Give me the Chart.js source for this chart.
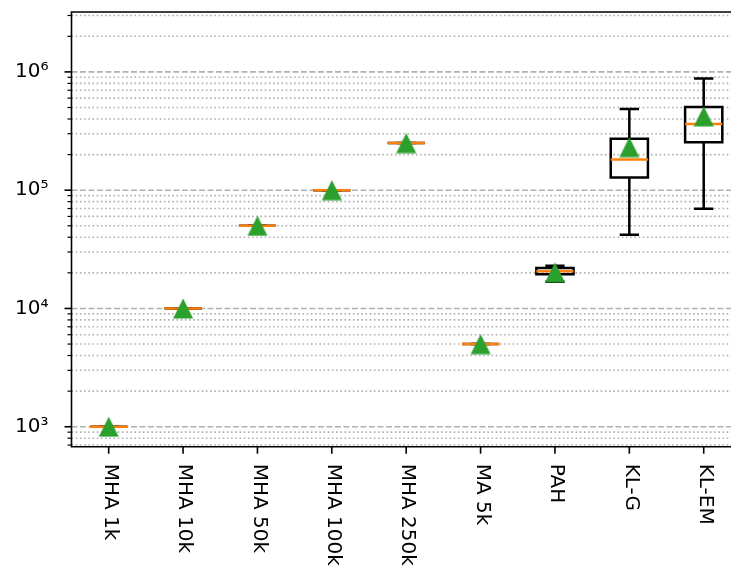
<!DOCTYPE html>
<html>
<head>
<meta charset="utf-8">
<script src="https://cdn.jsdelivr.net/npm/chart.js@4/dist/chart.umd.min.js"></script>
<style>
  html, body { margin: 0; padding: 0; background: #fff; overflow: hidden; }
  #wrap { position: relative; width: 731px; height: 573px; overflow: hidden; }
  #chart { position: absolute; left: 0; top: 0; display: block; width: 742px; height: 573px; }
</style>
</head>
<body>
<div id="wrap"><canvas id="chart" width="742" height="573"></canvas></div>
<script>
// data
const categories = ["MHA 1k", "MHA 10k", "MHA 50k", "MHA 100k", "MHA 250k", "MA 5k", "PAH", "KL-G", "KL-EM"];
const whiskerLow  = [1000, 10000, 50000, 100000, 250000, 5000, 16800, 42000, 69500];
const q1          = [1000, 10000, 50000, 100000, 250000, 5000, 19500, 128000, 254000];
const medians     = [1000, 10000, 50000, 100000, 250000, 5000, 20600, 182000, 362000];
const q3          = [1000, 10000, 50000, 100000, 250000, 5000, 22000, 272000, 505000];
const whiskerHigh = [1000, 10000, 50000, 100000, 250000, 5000, 23000, 486000, 878000];
const means       = [1000, 10000, 50000, 100000, 250000, 5000, 20200, 231000, 421000];
const decadeTicks = [1e3, 1e4, 1e5, 1e6];
const decadeLabels = ["10\u00b3", "10\u2074", "10\u2075", "10\u2076"];

const yMin = 678, yMax = 3.21e6;
const FONT = '20px "DejaVu Sans"';

// minor ticks 2..9 x 10^n, plus decades
const yTicks = [];
for (let e = 2; e <= 6; e++) {
  for (let m = 1; m <= 9; m++) {
    const v = m * Math.pow(10, e);
    if (v >= yMin && v <= yMax) yTicks.push({ value: v, major: m === 1 });
  }
}

// matplotlib-like "^" marker
const tri = document.createElement("canvas");
tri.width = 22; tri.height = 21;
(function () {
  const c = tri.getContext("2d");
  c.fillStyle = "#2ca02c";
  c.beginPath();
  c.moveTo(11, 0.5);
  c.lineTo(1, 20.5);
  c.lineTo(21, 20.5);
  c.closePath();
  c.fill();
})();

const boxPlugin = {
  id: "boxes",
  beforeDatasetsDraw(chart) {
    const { ctx, chartArea: a, scales: { x, y } } = chart;
    ctx.save();
    // grid lines
    ctx.lineWidth = 1.6;
    ctx.strokeStyle = "#b0b0b0";
    yTicks.forEach(t => {
      const py = y.getPixelForValue(t.value);
      ctx.setLineDash(t.major ? [5.9, 2.6] : [1.6, 2.6]);
      ctx.beginPath();
      ctx.moveTo(a.left, py);
      ctx.lineTo(a.right, py);
      ctx.stroke();
    });
    ctx.setLineDash([]);

    // box plots
    const step = x.getPixelForValue(1) - x.getPixelForValue(0);
    const half = step * 0.25, cap = step * 0.13;
    ctx.lineWidth = 2.5;
    categories.forEach((c, i) => {
      const px = x.getPixelForValue(i);
      const yLo = y.getPixelForValue(whiskerLow[i]);
      const yQ1 = y.getPixelForValue(q1[i]);
      const yMed = y.getPixelForValue(medians[i]);
      const yQ3 = y.getPixelForValue(q3[i]);
      const yHi = y.getPixelForValue(whiskerHigh[i]);
      ctx.strokeStyle = "#000";
      ctx.beginPath();
      ctx.moveTo(px, yQ1); ctx.lineTo(px, yLo);
      ctx.moveTo(px, yQ3); ctx.lineTo(px, yHi);
      ctx.moveTo(px - cap, yLo); ctx.lineTo(px + cap, yLo);
      ctx.moveTo(px - cap, yHi); ctx.lineTo(px + cap, yHi);
      ctx.stroke();
      ctx.beginPath();
      ctx.rect(px - half, yQ3, half * 2, yQ1 - yQ3);
      ctx.stroke();
      ctx.strokeStyle = "#ff7f0e";
      ctx.beginPath();
      ctx.moveTo(px - half, yMed); ctx.lineTo(px + half, yMed);
      ctx.stroke();
    });
    ctx.restore();
  },
  afterDraw(chart) {
    const { ctx, chartArea: a, scales: { x, y } } = chart;
    ctx.save();
    ctx.strokeStyle = "#000";
    // y ticks
    yTicks.forEach(t => {
      const py = y.getPixelForValue(t.value);
      ctx.lineWidth = t.major ? 1.6 : 1.2;
      ctx.beginPath();
      ctx.moveTo(a.left, py);
      ctx.lineTo(a.left - (t.major ? 7 : 4), py);
      ctx.stroke();
    });
    // x ticks and labels
    ctx.lineWidth = 1.6;
    ctx.font = FONT;
    ctx.fillStyle = "#000";
    categories.forEach((c, i) => {
      const px = x.getPixelForValue(i);
      ctx.beginPath();
      ctx.moveTo(px, a.bottom);
      ctx.lineTo(px, a.bottom + 7);
      ctx.stroke();
      ctx.save();
      ctx.translate(px + 1.5, a.bottom + 17);
      ctx.rotate(Math.PI / 2);
      ctx.textAlign = "left";
      ctx.textBaseline = "middle";
      ctx.fillText(c, 0, 0);
      ctx.restore();
    });
    // spines
    ctx.lineWidth = 1.6;
    ctx.beginPath();
    ctx.rect(a.left, a.top, a.right - a.left, a.bottom - a.top);
    ctx.stroke();
    ctx.restore();
  }
};

new Chart(document.getElementById("chart"), {
  type: "line",
  data: {
    labels: categories,
    datasets: [{
      label: "mean",
      data: means,
      showLine: false,
      pointStyle: tri,
      pointRadius: 10,
      pointHoverRadius: 10,
      clip: false
    }]
  },
  options: {
    responsive: false,
    animation: false,
    devicePixelRatio: 1,
    // canvas is wider than the window: the plot area runs past the right edge
    layout: { autoPadding: false, padding: { top: 12, right: 1.1, left: 0, bottom: 0 } },
    plugins: { legend: { display: false }, tooltip: { enabled: false } },
    scales: {
      x: {
        type: "category",
        offset: true,
        grid: { display: false, drawTicks: false },
        border: { display: false },
        ticks: { display: false },
        afterFit(s) { s.height = 126.3; s.paddingLeft = 0; s.paddingRight = 0; }
      },
      y: {
        type: "logarithmic",
        min: yMin,
        max: yMax,
        grid: { display: false, drawTicks: false },
        border: { display: false },
        afterBuildTicks(s) { s.ticks = yTicks.map(t => ({ value: t.value, major: t.major })); },
        ticks: {
          autoSkip: false,
          padding: 23,
          color: "#000",
          font: { family: "DejaVu Sans", size: 20 },
          callback: v => {
            const k = decadeTicks.indexOf(v);
            return k >= 0 ? decadeLabels[k] : "";
          }
        },
        afterFit(s) { s.width = 71.5; s.paddingTop = 0; s.paddingBottom = 0; }
      }
    }
  },
  plugins: [boxPlugin]
});
</script>
</body>
</html>
